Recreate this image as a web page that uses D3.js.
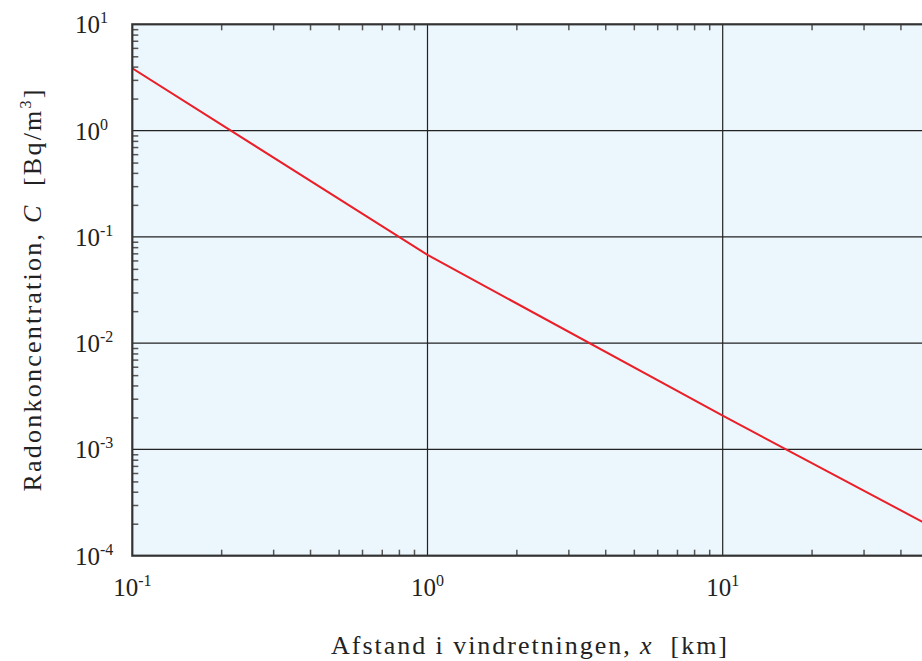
<!DOCTYPE html>
<meta charset="utf-8">
<style>
body { margin: 0; background: #fff; }
svg { font-family: "Liberation Serif", "DejaVu Serif", serif; }
text { white-space: pre; fill: #222; }
.minor line { stroke: #555; stroke-width: 1.5; }
.minor .domain { display: none; }
</style>
<body>
<script src="https://d3js.org/d3.v7.min.js"></script>
<script>

// distance downwind (km) and radon concentration (Bq/m3)
var distanceKm = [0.1, 1, 10, 50];
var concentration = [3.86, 0.0676, 0.00208, 0.000193];

var xDecades = [0.1, 1, 10];
var yDecades = [10, 1, 0.1, 0.01, 0.001, 0.0001];
var xExponents = ["-1", "0", "1"];
var yExponents = ["1", "0", "-1", "-2", "-3", "-4"];

var width = 922, height = 661;
var plotLeft = 132.3, plotTop = 24.3, plotBottom = 555.7;
var perDecade = 295.2;

var x = d3.scaleLog()
  .domain([0.1, 50])
  .range([plotLeft, plotLeft + perDecade * Math.log10(500)]);

var y = d3.scaleLog()
  .domain([1e-4, 10])
  .range([plotBottom, plotTop]);

var plotRight = x.range()[1];

var svg = d3.select("body").append("svg")
  .attr("width", width)
  .attr("height", height);

svg.append("defs").append("clipPath").attr("id", "plot")
  .append("rect")
    .attr("x", plotLeft).attr("y", plotTop)
    .attr("width", plotRight - plotLeft).attr("height", plotBottom - plotTop);

// background
svg.append("rect")
  .attr("x", plotLeft).attr("y", plotTop)
  .attr("width", plotRight - plotLeft).attr("height", plotBottom - plotTop)
  .attr("fill", "#ecf7fd");

// minor ticks (inside)
function isDecade(v) {
  var l = Math.log10(v);
  return Math.abs(l - Math.round(l)) < 1e-9;
}
var xMinor = x.ticks().filter(function(v) { return !isDecade(v); });
var yMinor = y.ticks().filter(function(v) { return !isDecade(v); });

svg.append("g").attr("class", "minor")
  .attr("transform", "translate(0," + plotBottom + ")")
  .call(d3.axisBottom(x).tickValues(xMinor).tickSize(-6).tickFormat(""));
svg.append("g").attr("class", "minor")
  .attr("transform", "translate(0," + plotTop + ")")
  .call(d3.axisTop(x).tickValues(xMinor).tickSize(-6).tickFormat(""));
svg.append("g").attr("class", "minor")
  .attr("transform", "translate(" + plotLeft + ",0)")
  .call(d3.axisLeft(y).tickValues(yMinor).tickSize(-6).tickFormat(""));

// grid
svg.append("g").selectAll("line")
  .data(xDecades.slice(1))
  .enter().append("line")
    .attr("x1", function(d) { return x(d); })
    .attr("x2", function(d) { return x(d); })
    .attr("y1", plotTop).attr("y2", plotBottom)
    .attr("stroke", "#222").attr("stroke-width", 1.2);

svg.append("g").selectAll("line")
  .data(yDecades.slice(1, -1))
  .enter().append("line")
    .attr("x1", plotLeft).attr("x2", plotRight)
    .attr("y1", function(d) { return y(d); })
    .attr("y2", function(d) { return y(d); })
    .attr("stroke", "#222").attr("stroke-width", 1.2);

// curve
var pts = distanceKm.map(function(d, i) { return [d, concentration[i]]; });
svg.append("path")
  .datum(pts)
  .attr("clip-path", "url(#plot)")
  .attr("fill", "none")
  .attr("stroke", "#ea1f28")
  .attr("stroke-width", 2)
  .attr("d", d3.line()
    .x(function(d) { return x(d[0]); })
    .y(function(d) { return y(d[1]); }));

// frame
svg.append("rect")
  .attr("x", plotLeft).attr("y", plotTop)
  .attr("width", plotRight - plotLeft).attr("height", plotBottom - plotTop)
  .attr("fill", "none")
  .attr("stroke", "#333")
  .attr("stroke-width", 2.2);

// tick labels
function power(sel, exp) {
  sel.append("tspan").text("10");
  sel.append("tspan").attr("dy", -10).style("font-size", "16px").text(exp);
}

svg.append("g").selectAll("text")
  .data(xDecades)
  .enter().append("text")
    .attr("x", function(d) { return x(d); })
    .attr("y", 596)
    .attr("text-anchor", "middle")
    .style("font-size", "25px")
    .each(function(d, i) { power(d3.select(this), xExponents[i]); });

svg.append("g").selectAll("text")
  .data(yDecades)
  .enter().append("text")
    .attr("x", 75)
    .attr("y", function(d) { return y(d) + 9; })
    .style("font-size", "25px")
    .each(function(d, i) { power(d3.select(this), yExponents[i]); });

// axis titles
var xt = svg.append("text")
  .attr("x", 529).attr("y", 654)
  .attr("text-anchor", "middle")
  .attr("textLength", 396)
  .attr("lengthAdjust", "spacing")
  .style("font-size", "26px");
xt.append("tspan").text("Afstand i vindretningen, ");
xt.append("tspan").style("font-style", "italic").text("x");
xt.append("tspan").text("  [km]");

var yt = svg.append("text")
  .attr("transform", "translate(41,290.5) rotate(-90)")
  .attr("text-anchor", "middle")
  .attr("textLength", 402)
  .attr("lengthAdjust", "spacing")
  .style("font-size", "26px");
yt.append("tspan").text("Radonkoncentration, ");
yt.append("tspan").style("font-style", "italic").text("C");
yt.append("tspan").text("  [Bq/m");
yt.append("tspan").attr("dy", -10).style("font-size", "16px").text("3");
yt.append("tspan").attr("dy", 10).text("]");

</script>
